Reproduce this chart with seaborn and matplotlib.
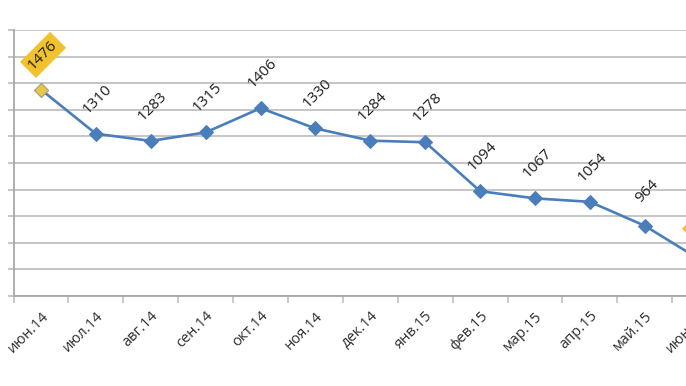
import matplotlib
matplotlib.use("Agg")
import matplotlib.pyplot as plt
from matplotlib.ticker import FixedLocator, NullFormatter
import seaborn as sns
import pandas as pd

# Monthly values, Jun 2014 - Jun 2015
months = ['июн.14', 'июл.14', 'авг.14', 'сен.14', 'окт.14', 'ноя.14', 'дек.14',
          'янв.15', 'фев.15', 'мар.15', 'апр.15', 'май.15', 'июн.15']
values = [1476, 1310, 1283, 1315, 1406, 1330, 1284, 1278, 1094, 1067, 1054, 964, 837]
highlight = ['июн.14', 'июн.15']  # points drawn in yellow

df = pd.DataFrame({'month': months, 'value': values})

sns.set_theme(style='white')
plt.rcParams['font.family'] = ['Open Sans', 'DejaVu Sans']

fig = plt.figure(figsize=(6.86, 3.86), dpi=100)
left = 13.5 / 686
ax = fig.add_axes([left, 90 / 386, 1 - left, 266 / 386])

line_col = '#4A7EBB'
yellow = '#F2C12E'
grid_col = '#C0C0C0'
label_col = '#2E2E2E'

sns.lineplot(data=df, x='month', y='value', ax=ax, color=line_col, linewidth=1.9,
             marker='D', markersize=7, markeredgecolor=line_col, sort=False, zorder=3)

hl = df[df['month'].isin(highlight)]
sns.scatterplot(data=hl, x='month', y='value', ax=ax, marker='D', s=45,
                color='#E6C64E', edgecolor='#D8B23A', linewidth=0.6, zorder=4)

# data labels
for i, (m, v) in enumerate(zip(months, values)):
    box = None
    if m in highlight:
        box = dict(boxstyle='square,pad=0.25', fc=yellow, ec='none')
    ax.annotate(str(v), xy=(i, v), xytext=(1.5, 25), textcoords='offset points',
                ha='center', va='center', rotation=45, fontsize=11, color='#1E1E1E',
                bbox=box, annotation_clip=False, zorder=5)

ax.set_yticks(range(700, 1701, 100))
ax.yaxis.set_major_formatter(NullFormatter())
ax.grid(axis='y', color=grid_col, linewidth=1.3)
ax.set_axisbelow(True)

ax.set_xticks(range(len(months)))
ax.set_xticklabels(months, rotation=45, ha='right', rotation_mode='anchor',
                   fontsize=10.5, color=label_col)
ax.xaxis.set_minor_locator(FixedLocator([i - 0.5 for i in range(len(months) + 1)]))
ax.tick_params(axis='x', which='major', length=0, pad=9)
ax.tick_params(axis='x', which='minor', length=5, width=1.2, color=grid_col, direction='out', bottom=True)
ax.tick_params(axis='y', which='major', length=4, width=1.3, color=grid_col, direction='out', left=True)

# the picture is cropped on the right: last month sits just past the edge
ax.set_ylim(700, 1700)
ax.set_xlim(-0.5, 11.75)

# its tick label is dropped by matplotlib, so draw it as an unclipped annotation
ax.annotate(months[-1], xy=(len(months) - 1, 0), xycoords=('data', 'axes fraction'),
            xytext=(0, -9), textcoords='offset points', rotation=45, ha='right',
            va='top', rotation_mode='anchor', fontsize=10.5, color=label_col,
            annotation_clip=False)

ax.set_xlabel('')
ax.set_ylabel('')
for side in ['top', 'right']:
    ax.spines[side].set_visible(False)
for side in ['left', 'bottom']:
    ax.spines[side].set_color('#A8A8A8')
    ax.spines[side].set_linewidth(1.3)

fig.savefig('out.png', dpi=100)
